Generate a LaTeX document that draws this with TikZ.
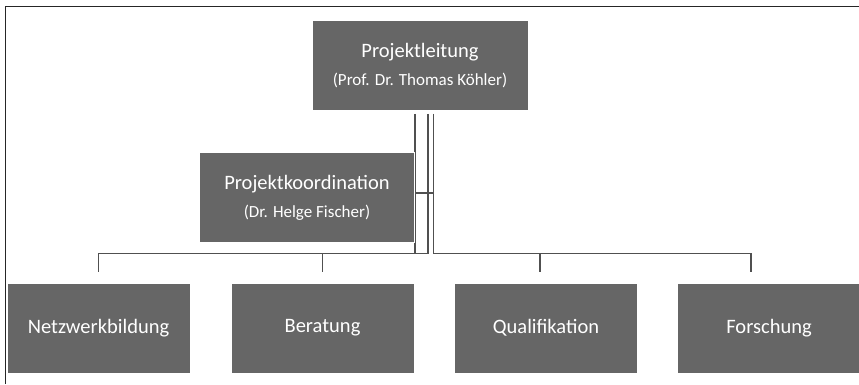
\documentclass[tikz,border=0pt]{standalone}
\usepackage{fontspec}
\setmainfont{Carlito}
\usetikzlibrary{positioning}
\usetikzlibrary{backgrounds}

\definecolor{boxgray}{RGB}{102,102,102}
\definecolor{linegray}{RGB}{80,80,80}

\tikzset{
	unitbox/.style = {fill = boxgray, draw = white, line width = 0.8pt, text = white, inner sep = 0pt, align = center, minimum height = 90pt, font = \fontsize{20.5}{28}\selectfont},
	leadbox/.style = {unitbox, minimum width = 216pt},
	teambox/.style = {unitbox, minimum width = 183pt},
	link/.style = {draw = linegray, line width = 1.6pt}
}

\begin{document}
\begin{tikzpicture}[x = 1pt, y = -1pt]
				\useasboundingbox (0, 0) rectangle (859, 384);
				\draw[black!85, line width = 1.8pt] (5.5, 384) -- (5.5, 6.5) -- (859, 6.5);
				\node[leadbox] (lead) at (420, 65.5) {Projektleitung\\{\fontsize{17}{28}\selectfont (Prof. Dr. Thomas Köhler)}};
				\node[leadbox, minimum width = 215pt] (coord) at (307, 197.5) {Projektkoordination\\{\fontsize{17}{28}\selectfont (Dr. Helge Fischer)}};
				\node[teambox] (net) at (98.5, 328) {Netzwerkbildung};
				\node[teambox] (ber) at (322.5, 328) {Beratung};
				\node[teambox] (qual) at (546, 328) {Qualifikation};
				\node[teambox] (fors) at (769, 328) {Forschung};
				\coordinate (trunk) at ([xshift = 13.5pt, yshift = -3pt]lead.south);
				\begin{scope}[on background layer]
					\draw[link] ([xshift = -5pt, yshift = -3pt]lead.south) |- ([yshift = 29pt]net.north) -- ([yshift = 11pt]net.north);
					\draw[link] ([xshift = 8pt, yshift = -3pt]lead.south) |- ([yshift = 29pt]ber.north) -- ([yshift = 11pt]ber.north);
					\draw[link] (trunk) |- ([xshift = -6pt, yshift = 29pt]qual.north) -- ([xshift = -6pt, yshift = 11pt]qual.north);
					\draw[link] (trunk) |- ([xshift = -18pt, yshift = 29pt]fors.north) -- ([xshift = -18pt, yshift = 11pt]fors.north);
					\draw[link] ([yshift = 4.5pt]coord.east) -- ([yshift = 4.5pt]coord.east -| trunk);
				\end{scope}
			\end{tikzpicture}
\end{document}
